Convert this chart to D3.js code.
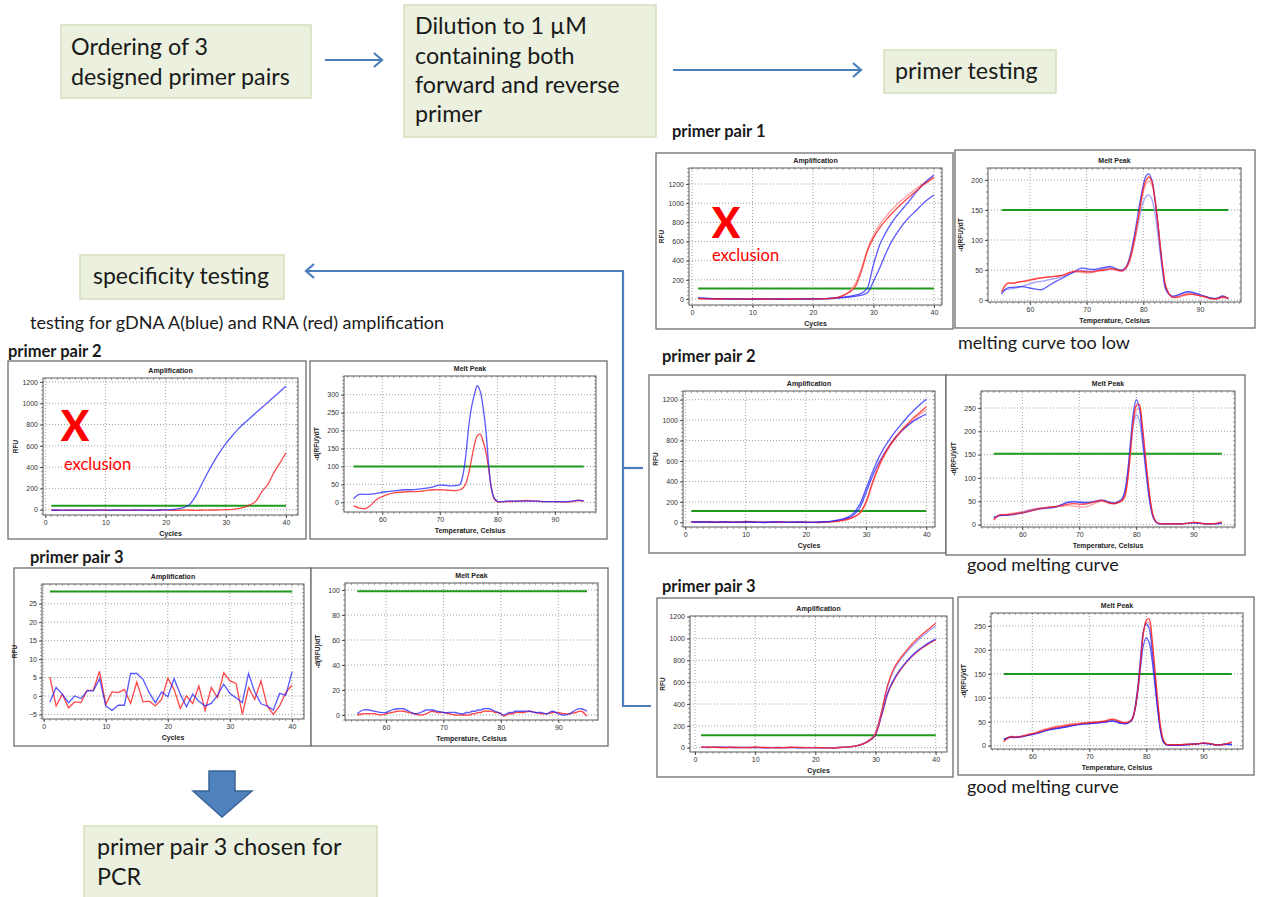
<!DOCTYPE html>
<html>
<head>
<meta charset="utf-8">
<script src="https://cdn.jsdelivr.net/npm/d3@7"></script>
<style>
  html, body { margin: 0; padding: 0; background: #fff; }
  svg { display: block; }
</style>
</head>
<body>
<svg id="fig" width="1262" height="897"></svg>
<script>
// ---------------- data ----------------
const cycles = [1,2,3,4,5,6,7,8,9,10,11,12,13,14,15,16,17,18,19,20,
                21,22,23,24,25,26,27,28,29,30,31,32,33,34,35,36,37,38,39,40];
const meltTemps = [55,56,57,58,59,60,61,62,63,64,65,66,67,68,69,70,71,72,73,
                   73.5,74,74.5,75,75.5,76,76.5,77,77.5,78,78.5,79,79.5,80,80.5,81,81.5,82,82.5,83,83.5,84,
                   85,86,87,88,89,90,91,92,93,94,95];

// tick labels
const cycleTicks = [0,10,20,30,40];
const tempTicks = [60,70,80,90];
const rfuTicks = [0,200,400,600,800,1000,1200];
const rfuNoiseTicks = [-5,0,5,10,15,20,25];
const peakTicks200 = [0,50,100,150,200];
const peakTicks250 = [0,50,100,150,200,250];
const peakTicks300 = [0,50,100,150,200,250,300];
const peakTicks100 = [0,20,40,60,80,100];

// thresholds (green lines)
const pp1AmpThreshold = 110, pp1MeltThreshold = 150;
const pp2AmpThreshold = 110, pp2MeltThreshold = 152;
const pp3AmpThreshold = 115, pp3MeltThreshold = 150;
const spec2AmpThreshold = 38, spec2MeltThreshold = 100;
const spec3AmpThreshold = 28.3, spec3MeltThreshold = 99;

// primer testing: primer pair 1
const pp1AmpRed    = [5,2,1,0,0,1,0,-1,0,1, 0,0,-1,0,1,0,0,1,1,2, 2,3,6,15,35,70,130,290,500,640, 740,820,890,955,1015,1070,1125,1180,1225,1265];
const pp1AmpRedLt  = [3,1,0,1,0,0,1,0,-1,0, 1,0,0,1,0,-1,0,0,1,1, 2,4,8,18,40,80,160,320,520,670, 775,860,930,995,1050,1100,1150,1195,1235,1275];
const pp1AmpBlue   = [12,8,5,3,2,1,0,0,-1,0, 0,1,0,-1,0,0,1,0,0,1, 2,4,8,14,20,28,40,60,115,360, 560,690,795,880,955,1030,1110,1185,1245,1295];
const pp1AmpBlueLt = [10,6,4,2,1,0,0,1,0,-1, 0,0,1,0,0,-1,0,1,0,1, 2,3,5,9,14,20,28,40,65,185, 320,470,600,700,790,860,920,985,1040,1085];

const pp1MeltRed    = [14,28,28,30,31,33,35,37,38,39,40,42,46,48,48,47,47,49,50,
                       51,52,52,51,50,49,50,55,65,82,105,132,160,185,200,205,198,172,135,90,50,22,
                       5,5,8,10,9,7,5,2,2,5,3];
const pp1MeltRedLt  = [12,27,28,30,32,34,36,37,38,39,40,41,45,47,46,45,46,48,49,
                       50,51,51,50,49,48,49,53,62,78,100,128,155,180,194,198,192,168,132,88,48,20,
                       5,4,7,9,9,7,5,3,2,4,2];
const pp1MeltBlue   = [10,20,21,22,22,20,18,17,22,28,33,38,43,48,53,52,51,52,54,
                       55,56,55,53,51,50,51,56,68,88,112,140,168,192,207,210,200,172,132,85,45,18,
                       7,8,12,14,12,9,6,3,3,7,2];
const pp1MeltBlueLt = [14,18,19,21,24,27,30,31,33,35,37,40,44,47,49,48,48,50,52,
                       53,54,53,51,49,48,49,53,63,80,100,122,145,163,173,175,168,148,115,75,40,16,
                       6,7,11,13,11,8,5,3,2,6,2];

// primer testing: primer pair 2
const pp2AmpBlue   = [5,3,2,3,1,4,2,0,1,3, 2,0,-2,1,5,2,0,1,3,0, -1,2,5,10,18,30,50,95,180,330, 480,620,730,820,900,970,1040,1100,1155,1205];
const pp2AmpBlueLt = [4,2,1,2,0,3,1,0,2,2, 1,0,-1,2,3,1,0,2,2,0, 0,1,3,7,14,24,40,75,145,290, 440,570,670,760,840,900,950,995,1030,1060];
const pp2AmpRed    = [3,5,6,4,2,1,3,2,1,8, 4,2,1,0,2,3,1,0,2,1, 0,-2,1,5,10,18,30,55,95,200, 380,540,660,760,840,910,970,1030,1080,1130];
const pp2AmpRedLt  = [2,4,5,3,1,2,2,1,2,6, 3,1,0,1,1,2,0,1,1,0, -1,-1,2,4,9,16,27,50,88,185, 360,520,645,745,825,895,955,1010,1060,1100];

const pp2MeltRed    = [10,21,21,22,24,26,28,31,34,36,38,39,41,44,45,44,44,47,50,
                       52,52,50,48,46,45,46,49,52,62,98,160,225,255,258,220,160,100,50,18,6,3,
                       2,2,2,2,3,5,4,2,2,3,6];
const pp2MeltRedLt  = [12,20,22,24,26,28,31,34,36,37,38,39,40,41,40,38,38,42,47,
                       49,50,49,47,45,44,45,47,50,60,95,155,218,246,248,212,155,96,46,16,5,2,
                       2,2,2,2,3,5,4,2,1,3,5];
const pp2MeltBlue   = [15,20,20,21,23,25,28,31,34,35,36,38,43,48,49,48,47,48,50,
                       51,52,51,49,47,46,47,50,55,72,115,180,240,268,252,200,140,85,40,15,5,2,
                       2,2,2,2,3,4,3,2,2,2,3];
const pp2MeltBlueLt = [16,19,20,22,24,27,30,33,35,36,37,39,44,49,50,49,48,49,51,
                       52,53,52,50,48,47,48,51,56,72,110,165,215,235,225,185,132,80,38,14,5,2,
                       2,2,2,2,3,4,3,2,2,2,3];

// primer testing: primer pair 3
const pp3AmpRed    = [8,5,4,3,2,4,3,1,2,5, 3,2,1,0,2,4,3,2,1,2, 0,-1,-2,2,5,10,20,38,70,130, 330,570,720,810,880,945,1000,1050,1095,1140];
const pp3AmpBlue   = [4,3,6,8,5,3,2,4,3,2, 1,0,2,3,1,2,0,1,2,1, 0,1,0,3,6,11,21,40,72,135, 325,560,705,795,865,925,980,1030,1075,1115];
const pp3AmpBlueLt = [3,2,5,7,4,2,1,3,2,1, 0,-1,1,2,0,1,-1,0,1,0, -1,0,-1,2,5,10,19,36,66,120, 300,500,620,710,780,840,890,930,965,995];
const pp3AmpRedLt  = [6,4,3,2,1,3,2,0,1,4, 2,1,0,-1,1,3,2,1,0,1, -1,-2,-3,1,4,9,18,35,64,118, 295,490,612,700,772,832,882,922,958,988];

const pp3MeltRed    = [8,18,18,19,22,25,28,32,35,38,40,42,44,45,47,48,49,50,52,
                       54,55,54,52,50,48,48,50,55,75,115,175,235,262,265,225,160,95,40,12,3,2,
                       2,2,3,3,4,6,5,2,2,4,8];
const pp3MeltRedLt  = [10,19,19,20,23,26,30,34,37,40,42,44,46,47,48,49,50,51,53,
                       55,56,55,53,51,49,49,51,56,76,118,178,236,258,256,218,155,92,38,11,3,2,
                       2,2,3,3,4,6,5,2,2,4,7];
const pp3MeltBlue   = [12,17,17,18,21,23,26,30,33,35,37,39,42,44,45,46,47,48,50,
                       51,52,51,49,47,46,46,49,55,78,122,185,240,255,245,200,140,80,32,8,2,1,
                       1,1,2,3,4,5,4,2,2,3,3];
const pp3MeltBlueLt = [14,18,18,19,21,24,27,31,34,36,38,40,42,44,46,46,47,49,50,
                       51,52,51,49,47,46,46,49,54,74,112,165,210,225,215,180,128,74,30,8,2,1,
                       1,1,2,3,4,5,4,2,2,3,2];

// specificity testing: gDNA (blue) and RNA (red), primer pair 2
const spec2AmpBlue = [-5,-3,-6,-2,-4,-5,-3,-6,-4,-2, -5,-3,-6,-4,-2,-5,-4,-6,-3,-2, 0,8,20,50,130,240,350,450,540,620, 690,755,810,860,910,960,1010,1060,1110,1160];
const spec2AmpRed  = [-3,-5,-4,-6,-5,-4,-6,-5,-3,-5, -6,-4,-5,-6,-5,-4,-5,-6,-5,-4, -5,-6,-4,-5,-6,-5,-4,-3,-2,0, 3,10,22,45,80,170,240,350,440,535];
const spec2MeltBlue = [10,22,22,23,25,28,30,32,34,35,35,36,38,40,44,48,47,46,47,
                       50,75,130,210,265,300,325,310,265,200,100,35,10,3,2,2,3,4,4,3,3,3,
                       3,3,3,2,2,2,2,2,3,6,4];
const spec2MeltRed  = [-10,-16,-18,-8,8,16,22,26,28,29,30,30,31,34,35,35,34,33,33,
                       35,40,52,80,120,160,185,190,170,140,90,35,8,1,1,2,2,2,2,3,3,4,
                       5,4,3,2,2,2,1,1,2,5,3];

// specificity testing: primer pair 3
const spec3AmpBlue = [-1.6,2.3,0.5,-1.8,0,-0.7,1.4,1.4,4.7,-2.7, -3.9,-2.5,-2.5,6.1,6.1,4.5,0.9,-1.8,1.1,-0.2,
                      4.7,0.5,-2.9,0.5,-1.4,-2.7,-2.0,0.2,3.2,0.7, -0.5,-1.8,6.1,1.1,-2.1,-2.7,-3.8,0.7,0.2,6.5];
const spec3AmpRed  = [5.1,-2.7,0.5,-3.2,-1.6,-1.8,1.5,1.6,6.7,-2.3, 1.1,0.9,1.8,-2.0,3.8,-1.6,-1.4,-2.7,-0.9,4.8,
                      1.8,-3.4,0,-2.0,2.7,-3.9,2.3,-0.5,6.3,4.1, 3.4,-5.0,2.3,-0.9,4.1,-2.7,-5.0,-2.7,0.9,2.9];
const spec3MeltBlue = [1,4,4,3,2,2,4,5,5,3,1,2,4,4,3,2,2,2,1,
                       1,2,2,3,3,4,4,5,5,5,4,3,2,1,0,1,2,2,3,3,3,3,
                       3,2,2,1,3,1,0,1,4,5,3];
const spec3MeltRed  = [0,1,1,1,0,1,2,3,3,2,1,0,1,3,2,2,1,0,0,
                       0,0,0,1,1,2,2,3,3,3,3,2,2,1,-1,0,1,1,2,2,2,2,
                       3,2,1,1,2,2,1,1,2,3,-1];

// ---------------- styling ----------------
const svg = d3.select("#fig");
const TEXT_FONT = "Lato, 'Open Sans', sans-serif";
const PLOT_FONT = "'Liberation Sans', Arial, sans-serif";
const BOX_FILL = "#ebf1de", BOX_STROKE = "#d3dfbc";
const ARROW_BLUE = "#4a7ebb";
const LINE_STYLE = {
  red:    { stroke: "#ff1a1a", opacity: 0.8 },
  redLt:  { stroke: "#ff8f8f", opacity: 0.85 },
  blue:   { stroke: "#2020ff", opacity: 0.75 },
  blueLt: { stroke: "#8f8fff", opacity: 0.85 }
};

// ---------------- flow chart boxes ----------------
function flowBox(rect, lines, tx, baselines, size) {
  const [x0, y0, x1, y1] = rect;
  svg.append("rect").attr("x", x0).attr("y", y0).attr("width", x1 - x0).attr("height", y1 - y0)
    .attr("fill", BOX_FILL).attr("stroke", BOX_STROKE).attr("stroke-width", 1.5);
  lines.forEach((t, i) => {
    svg.append("text").attr("x", tx).attr("y", baselines[i])
      .attr("font-family", TEXT_FONT).attr("font-size", size).attr("fill", "#1a1a1a").text(t);
  });
}

flowBox([61, 25, 311, 98], ["Ordering of 3", "designed primer pairs"], 71, [55, 85], 23.3);
flowBox([404, 5, 656, 137], ["Dilution to 1 µM", "containing both", "forward and reverse", "primer"], 415, [34, 64, 93, 122], 23.3);
flowBox([884, 50, 1056, 93], ["primer testing"], 895, [79], 23.3);
flowBox([80, 255, 284, 299], ["specificity testing"], 93, [284], 23);
flowBox([84, 826, 377, 900], ["primer pair 3 chosen for", "PCR"], 97, [855, 885], 23.3);

// ---------------- connectors ----------------
function arrowLine(pts, head) {
  svg.append("path").attr("d", d3.line()(pts)).attr("fill", "none")
    .attr("stroke", ARROW_BLUE).attr("stroke-width", 2.2);
  if (head) {
    svg.append("path").attr("d", d3.line()(head)).attr("fill", "none")
      .attr("stroke", ARROW_BLUE).attr("stroke-width", 2.2).attr("stroke-linejoin", "miter");
  }
}
arrowLine([[325, 60], [382, 60]], [[374, 53], [382, 60], [374, 67]]);
arrowLine([[673, 70], [861, 70]], [[853, 63], [861, 70], [853, 77]]);
arrowLine([[623, 271], [306, 271]], [[314, 264], [306, 271], [314, 278]]);
arrowLine([[623, 270], [623, 706], [651, 706]]);
arrowLine([[623, 468], [643, 468]]);

// block arrow pointing down to the chosen primer pair
svg.append("path")
  .attr("d", d3.line()([[209, 771], [235, 771], [235, 791], [252, 791], [222, 817], [193, 791], [209, 791]]) + "Z")
  .attr("fill", "#4f81bd").attr("stroke", "#3a6496").attr("stroke-width", 1.5);

// ---------------- text labels ----------------
function label(x, y, t, size, weight, color) {
  return svg.append("text").attr("x", x).attr("y", y).attr("font-family", TEXT_FONT)
    .attr("font-size", size).attr("font-weight", weight || "normal").attr("fill", color || "#1a1a1a").text(t);
}
label(672, 137, "primer pair 1", 16.5, "bold");
label(662, 362, "primer pair 2", 16.5, "bold");
label(662, 592, "primer pair 3", 16.5, "bold");
label(8, 357, "primer pair 2", 16.5, "bold");
label(30, 563, "primer pair 3", 16.5, "bold");
label(958, 349, "melting curve too low", 18);
label(967, 571, "good melting curve", 18);
label(967, 793, "good melting curve", 18);
label(30, 329, "testing for gDNA A(blue) and RNA (red) amplification", 18);

// ---------------- instrument plots ----------------
function drawPanel(p, idx) {
  const g = svg.append("g");
  const [bx0, by0, bx1, by1] = p.box;
  const [fx0, fy0, fx1, fy1] = p.frame;
  g.append("rect").attr("x", bx0).attr("y", by0).attr("width", bx1 - bx0).attr("height", by1 - by0)
    .attr("fill", "#fff").attr("stroke", "#6e6e6e").attr("stroke-width", 1.3);

  const x = d3.scaleLinear().domain(p.x.d).range(p.x.r);
  const y = d3.scaleLinear().domain(p.y.d).range(p.y.r);

  g.append("text").attr("x", (fx0 + fx1) / 2).attr("y", fy0 - 5).attr("text-anchor", "middle")
    .attr("font-family", PLOT_FONT).attr("font-size", 7).attr("font-weight", "bold").attr("fill", "#222")
    .text(p.title);

  // grid
  p.xTicks.forEach(t => {
    const px = x(t);
    if (px > fx0 + 1 && px < fx1 - 1)
      g.append("line").attr("x1", px).attr("x2", px).attr("y1", fy0).attr("y2", fy1)
        .attr("stroke", "#8a8a8a").attr("stroke-width", 0.8).attr("stroke-dasharray", "1,2");
  });
  p.yTicks.forEach(t => {
    const py = y(t);
    if (py > fy0 + 1 && py < fy1 - 1)
      g.append("line").attr("x1", fx0).attr("x2", fx1).attr("y1", py).attr("y2", py)
        .attr("stroke", "#8a8a8a").attr("stroke-width", 0.8).attr("stroke-dasharray", "1,2");
  });

  // minor ticks around the frame
  const xMinor = d3.range(Math.ceil(x.invert(fx0)), x.invert(fx1), 1);
  const yStep = (p.yTicks[1] - p.yTicks[0]) / 5;
  const yMinor = d3.range(Math.ceil(y.invert(fy1) / yStep) * yStep, y.invert(fy0), yStep);
  const minor = g.append("g").attr("stroke", "#666").attr("stroke-width", 0.6);
  xMinor.forEach(v => {
    const px = x(v);
    minor.append("line").attr("x1", px).attr("x2", px).attr("y1", fy1).attr("y2", fy1 + 2);
    minor.append("line").attr("x1", px).attr("x2", px).attr("y1", fy0).attr("y2", fy0 + 2);
  });
  yMinor.forEach(v => {
    const py = y(v);
    minor.append("line").attr("x1", fx0 - 2).attr("x2", fx0).attr("y1", py).attr("y2", py);
    minor.append("line").attr("x1", fx1 - 2).attr("x2", fx1).attr("y1", py).attr("y2", py);
  });

  // axes (ticks and labels)
  const fmt = d3.format("d");
  const ax = g.append("g").attr("transform", `translate(0,${fy1})`)
    .call(d3.axisBottom(x).tickValues(p.xTicks).tickFormat(fmt).tickSize(3).tickPadding(2));
  const ay = g.append("g").attr("transform", `translate(${fx0},0)`)
    .call(d3.axisLeft(y).tickValues(p.yTicks).tickFormat(fmt).tickSize(3).tickPadding(2));
  [ax, ay].forEach(a => {
    a.select(".domain").remove();
    a.selectAll("line").attr("stroke", "#555");
    a.selectAll("text").attr("font-family", PLOT_FONT).attr("font-size", 7).attr("fill", "#333");
  });

  // clip to plot frame
  const clipId = "clip" + idx;
  g.append("clipPath").attr("id", clipId).append("rect")
    .attr("x", fx0).attr("y", fy0).attr("width", fx1 - fx0).attr("height", fy1 - fy0);
  const plot = g.append("g").attr("clip-path", `url(#${clipId})`);

  // threshold
  plot.append("line").attr("x1", x(p.thrFrom)).attr("x2", x(p.thrTo))
    .attr("y1", y(p.threshold)).attr("y2", y(p.threshold))
    .attr("stroke", "#1f9a1f").attr("stroke-width", 2);

  // curves
  const curve = p.kind === "amp" ? (p.linear ? d3.curveLinear : d3.curveMonotoneX) : d3.curveCatmullRom.alpha(0.5);
  p.series.forEach(([vals, styleKey]) => {
    const st = LINE_STYLE[styleKey];
    const line = d3.line().x((d, i) => x(p.xs[i])).y(d => y(d)).curve(curve);
    plot.append("path").attr("d", line(vals)).attr("fill", "none")
      .attr("stroke", st.stroke).attr("stroke-opacity", st.opacity).attr("stroke-width", 1.3);
  });

  // frame
  g.append("rect").attr("x", fx0).attr("y", fy0).attr("width", fx1 - fx0).attr("height", fy1 - fy0)
    .attr("fill", "none").attr("stroke", "#5a5a5a").attr("stroke-width", 1);

  // axis titles
  g.append("text").attr("x", (fx0 + fx1) / 2).attr("y", fy1 + 21).attr("text-anchor", "middle")
    .attr("font-family", PLOT_FONT).attr("font-size", 7).attr("font-weight", "bold").attr("fill", "#222")
    .text(p.xLabel);
  g.append("text").attr("transform", `translate(${fx0 - 25},${(fy0 + fy1) / 2}) rotate(-90)`)
    .attr("text-anchor", "middle")
    .attr("font-family", PLOT_FONT).attr("font-size", 6.5).attr("font-weight", "bold").attr("fill", "#222")
    .text(p.yLabel);
}

const amp = (o) => Object.assign({ kind: "amp", title: "Amplification", xLabel: "Cycles", yLabel: "RFU",
  xs: cycles, xTicks: cycleTicks, thrFrom: 1, thrTo: 40 }, o);
const melt = (o) => Object.assign({ kind: "melt", title: "Melt Peak", xLabel: "Temperature, Celsius",
  yLabel: "-d(RFU)/dT", xs: meltTemps, xTicks: tempTicks, thrFrom: 55, thrTo: 95 }, o);

const panels = [
  // primer testing column
  amp({ box: [656, 153, 953, 329], frame: [689, 168, 942, 305], x: { d: [0, 40], r: [692, 934] }, y: { d: [0, 1200], r: [299, 184] },
        yTicks: rfuTicks, threshold: pp1AmpThreshold,
        series: [[pp1AmpRedLt, "redLt"], [pp1AmpBlueLt, "blue"], [pp1AmpBlue, "blue"], [pp1AmpRed, "red"]] }),
  melt({ box: [955, 150, 1255, 328], frame: [988, 168, 1241, 302], x: { d: [60, 90], r: [1030, 1200] }, y: { d: [0, 200], r: [300, 180] },
        yTicks: peakTicks200, threshold: pp1MeltThreshold,
        series: [[pp1MeltBlueLt, "blueLt"], [pp1MeltRedLt, "redLt"], [pp1MeltBlue, "blue"], [pp1MeltRed, "red"]] }),
  amp({ box: [649, 375, 946, 553], frame: [683, 391, 935, 527], x: { d: [0, 40], r: [685.3, 926.3] }, y: { d: [0, 1200], r: [522.3, 399.7] },
        yTicks: rfuTicks, threshold: pp2AmpThreshold,
        series: [[pp2AmpRedLt, "redLt"], [pp2AmpBlueLt, "blue"], [pp2AmpRed, "red"], [pp2AmpBlue, "blue"]] }),
  melt({ box: [946, 375, 1245, 555], frame: [981, 391, 1235, 527], x: { d: [60, 90], r: [1022.3, 1193.3] }, y: { d: [0, 250], r: [524.7, 408] },
        yTicks: peakTicks250, threshold: pp2MeltThreshold,
        series: [[pp2MeltRedLt, "redLt"], [pp2MeltBlueLt, "blueLt"], [pp2MeltBlue, "blue"], [pp2MeltRed, "red"]] }),
  amp({ box: [657, 598, 953, 777], frame: [690, 616, 947, 752], x: { d: [0, 40], r: [695, 935.7] }, y: { d: [0, 1200], r: [747.7, 616.7] },
        yTicks: rfuTicks, threshold: pp3AmpThreshold,
        series: [[pp3AmpRedLt, "red"], [pp3AmpBlueLt, "blue"], [pp3AmpBlue, "blueLt"], [pp3AmpRed, "red"]] }),
  melt({ box: [958, 597, 1254, 775], frame: [991, 613, 1243, 749], x: { d: [60, 90], r: [1032.3, 1203.3] }, y: { d: [0, 250], r: [745.7, 626] },
        yTicks: peakTicks250, threshold: pp3MeltThreshold,
        series: [[pp3MeltRedLt, "redLt"], [pp3MeltBlueLt, "blue"], [pp3MeltBlue, "blue"], [pp3MeltRed, "red"]] }),
  // specificity testing column
  amp({ box: [8, 361, 306, 539], frame: [43, 378, 298, 515], x: { d: [0, 40], r: [45.3, 286] }, y: { d: [0, 1200], r: [509.7, 382] },
        yTicks: rfuTicks, threshold: spec2AmpThreshold,
        series: [[spec2AmpRed, "red"], [spec2AmpBlue, "blue"]] }),
  melt({ box: [310, 361, 607, 539], frame: [344, 376, 596, 512], x: { d: [60, 90], r: [382.3, 555] }, y: { d: [0, 300], r: [502.3, 394.7] },
        yTicks: peakTicks300, threshold: spec2MeltThreshold,
        series: [[spec2MeltRed, "red"], [spec2MeltBlue, "blue"]] }),
  amp({ box: [14, 568, 311, 746], frame: [42, 584, 304, 719], x: { d: [0, 40], r: [43.7, 292] }, y: { d: [0, 25], r: [696, 603.7] },
        yTicks: rfuNoiseTicks, threshold: spec3AmpThreshold, linear: true,
        series: [[spec3AmpRed, "red"], [spec3AmpBlue, "blue"]] }),
  melt({ box: [311, 568, 608, 746], frame: [345, 583, 598, 720], x: { d: [60, 90], r: [386, 558.3] }, y: { d: [0, 100], r: [715, 590] },
        yTicks: peakTicks100, threshold: spec3MeltThreshold,
        series: [[spec3MeltRed, "red"], [spec3MeltBlue, "blue"]] })
];
panels.forEach(drawPanel);

// ---------------- exclusion marks ----------------
function exclusion(cx, xBase, exX, exBase) {
  svg.append("text").attr("x", cx).attr("y", xBase).attr("text-anchor", "middle")
    .attr("font-family", TEXT_FONT).attr("font-size", 42).attr("font-weight", 900).attr("fill", "#ff0000").text("X");
  svg.append("text").attr("x", exX).attr("y", exBase)
    .attr("font-family", TEXT_FONT).attr("font-size", 16.5).attr("fill", "#ff0000").text("exclusion");
}
exclusion(726, 238, 712, 261);
exclusion(75, 441, 64, 470);
</script>
</body>
</html>
